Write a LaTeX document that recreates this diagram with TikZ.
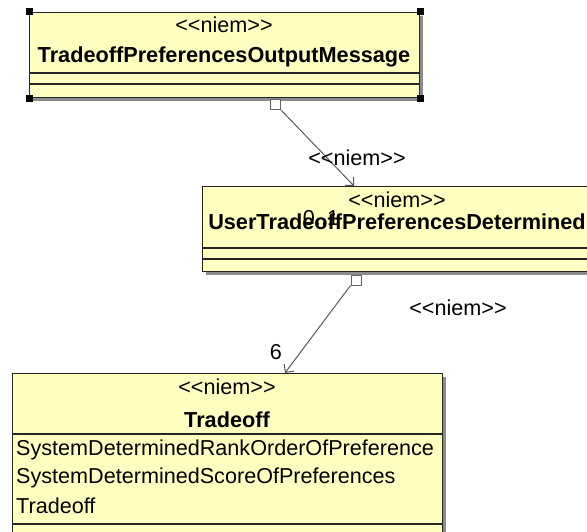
\documentclass[tikz,border=0pt]{standalone}
\usepackage{fontspec}
\newfontfamily\umlfont{Liberation Sans}
\usepackage{tikz}
\usetikzlibrary{calc,arrows.meta,shadows}

\definecolor{umlfill}{RGB}{255,255,192}

\begin{document}
\begin{tikzpicture}[x=1pt,y=-1pt,
    umlbox/.style={draw=black!85, fill=umlfill, line width=1.2pt, anchor=north west, inner sep=0pt,
        drop shadow={shadow xshift=3pt, shadow yshift=-3pt, fill=black!45, opacity=1}},
    umlline/.style={draw=black!85, line width=1.2pt},
    port/.style={draw=black!60, fill=white, line width=1pt, minimum size=10pt, inner sep=0pt},
    handle/.style={fill=black, minimum size=7pt, inner sep=0pt},
    txt/.style={font=\umlfont\fontsize{21.6}{26}\selectfont, inner sep=0pt},
    btxt/.style={font=\umlfont\fontsize{21.7}{26}\selectfont\bfseries, inner sep=0pt},
    assoc/.style={draw=black!65, line width=1pt, -{Straight Barb[length=6pt,width=12pt]}}]

    \useasboundingbox (0,0) rectangle (587,532);
    \clip (0,0) rectangle (587,532);

    % Draw the message class
    \node[umlbox, minimum width=390pt, minimum height=85pt] (msg) at (29,12) {};
    \draw[umlline] (msg.west |- 0,73) -- (msg.east |- 0,73);
    \draw[umlline] (msg.west |- 0,84) -- (msg.east |- 0,84);
    \node[txt] (msgst) at (224,25) {<<niem>>};
    \node[btxt] (msgname) at (224,57) {TradeoffPreferencesOutputMessage};
    \foreach \c in {north west,north east,south west,south east}
        \node[handle] at (msg.\c) {};

    % Draw the determined class
    \node[umlbox, minimum width=390pt, minimum height=85pt] (det) at (202,186) {};
    \draw[umlline] (det.west |- 0,248) -- (det.east |- 0,248);
    \draw[umlline] (det.west |- 0,259) -- (det.east |- 0,259);
    \node[txt] (detst) at (397,200) {<<niem>>};
    \node[btxt] (detname) at (397,222) {UserTradeoffPreferencesDetermined};

    % Draw the tradeoff class
    \node[umlbox, minimum width=430pt, minimum height=175pt] (trd) at (12,373) {};
    \draw[umlline] (trd.west |- 0,434) -- (trd.east |- 0,434);
    \draw[umlline] (trd.west |- 0,524) -- (trd.east |- 0,524);
    \node[txt] (trdst) at (227,387) {<<niem>>};
    \node[btxt] (trdname) at (227,420) {Tradeoff};
    \node[txt, anchor=west] (attra) at (16,450) {SystemDeterminedRankOrderOfPreference};
    \node[txt, anchor=west] (attrb) at (16,478) {SystemDeterminedScoreOfPreferences};
    \node[txt, anchor=west] (attrc) at (16,506) {Tradeoff};

    % Associations with their ports
    \node[port] (p1) at (275.5,104.5) {};
    \draw[assoc] (p1.south east) -- (det.north -| 354,0);
    \node[txt] (lab1) at (357,158) {<<niem>>};
    \node[txt] (mult1) at (321,218) {0..1};

    \node[port] (p2) at (356,280) {};
    \draw[assoc] (p2.south west) -- (trd.north -| 285,0);
    \node[txt] (lab2) at (458,308) {<<niem>>};
    \node[txt] (mult2) at (276,352) {6};

\end{tikzpicture}
\end{document}
